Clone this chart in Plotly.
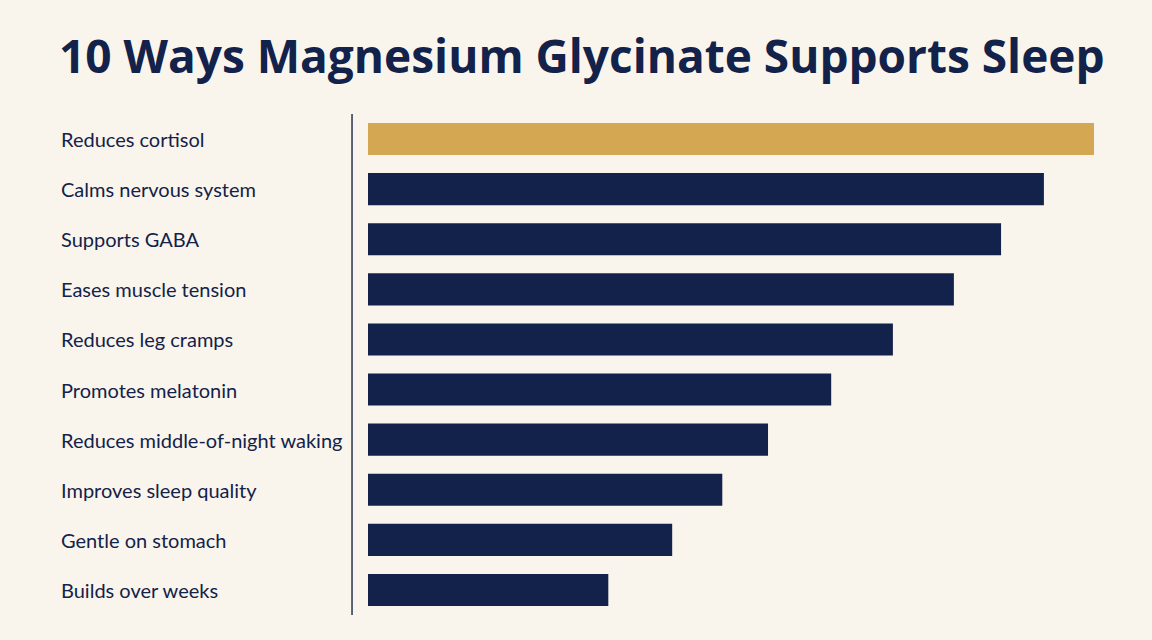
import plotly.graph_objects as go

# Benefits, top to bottom, with relative strength scores
benefits = [
    "Reduces cortisol",
    "Calms nervous system",
    "Supports GABA",
    "Eases muscle tension",
    "Reduces leg cramps",
    "Promotes melatonin",
    "Reduces middle-of-night waking",
    "Improves sleep quality",
    "Gentle on stomach",
    "Builds over weeks",
]
scores = [100, 93.1, 87.2, 80.7, 72.3, 63.8, 55.1, 48.8, 41.9, 33.1]

NAVY = "#13224a"
GOLD = "#d4a853"
BG = "#faf5ec"

colors = [GOLD] + [NAVY] * (len(benefits) - 1)

fig = go.Figure()
fig.add_trace(go.Bar(
    x=scores,
    y=benefits,
    orientation="h",
    marker=dict(color=colors, line=dict(width=0)),
    width=0.64,
    hoverinfo="x+y",
))

# Left-aligned category labels
for name in benefits:
    fig.add_annotation(
        x=-0.426, xref="paper", xanchor="left",
        y=name, yref="y",
        text=name, showarrow=False,
        font=dict(family="Lato", size=20, color=NAVY),
    )

# Thin vertical separator left of the bars
fig.add_shape(
    type="line", xref="paper", yref="paper",
    x0=-0.022, x1=-0.022, y0=0.0, y1=1.0,
    line=dict(color="#2a3350", width=1.5),
)

fig.update_layout(
    width=1152, height=640,
    paper_bgcolor=BG, plot_bgcolor=BG,
    margin=dict(l=368, r=58, t=114, b=25),
    title=dict(
        text="<b>10 Ways Magnesium Glycinate Supports Sleep</b>",
        x=0.505, xanchor="center", xref="container",
        y=1 - 57 / 640, yanchor="middle", yref="container",
        font=dict(family="Open Sans", size=46, color=NAVY),
    ),
    xaxis=dict(range=[0, 100], visible=False, fixedrange=True),
    yaxis=dict(autorange="reversed", showticklabels=False, showgrid=False,
               zeroline=False, ticks="", fixedrange=True),
    showlegend=False,
)

fig.write_html(
    "out.html",
    config={"displayModeBar": False},
    post_script="document.body.style.margin='0';"
                "document.body.style.background='" + BG + "';"
                "document.body.style.overflow='hidden';",
)
